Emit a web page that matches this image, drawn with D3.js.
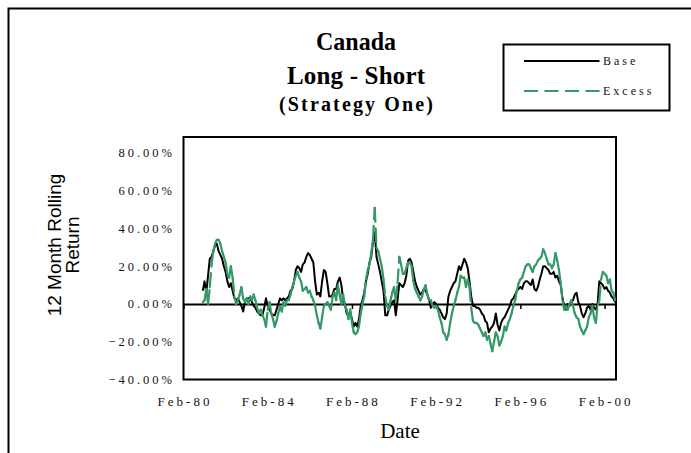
<!DOCTYPE html>
<html>
<head>
<meta charset="utf-8">
<script src="https://cdn.jsdelivr.net/npm/d3@7"></script>
<style>
  html, body { margin: 0; padding: 0; background: #fff; }
  svg { display: block; }
</style>
</head>
<body>
<svg id="chart" width="691" height="453"></svg>
<script>
// ---- data (12 month rolling returns, %), monthly from Jan-81 to Aug-00 ----
const firstDataMonth = 11; // months after Feb-80 (Jan-81)
const baseReturn = [
  7,
  12, 6, 15, 24, 25, 28, 31, 32, 28, 26, 24, 20, 17, 12, 9, 11, 7,
  3, 2, 3, 1, -1, -4, 1, 3, 3, 3, 1, -1, -2, -4, -5, -6, -6, -2, 3,
  -1, -3, -5, -6, -6, -3, 0, 3, 2, 3, 2, 3, 4, 7, 8, 12, 18, 20, 19,
  17, 21, 22, 25, 27, 26, 24, 22, 12, 5, 6, 4, 12, 18, 17, 11, 4, 4,
  5, 8, 8, 12, 14, 10, 2, 0, -5, -6, -4, -8, -12, -10, -12, -8, -1, 2, 6,
  12, 16, 22, 25, 33, 38, 25, 21, 17, 12, 7, -6, -6, -3, -1, 1, 2, -6, 2,
  11, 10, 9, 11, 15, 23, 24, 22, 17, 12, 9, 7, 5, 6, 8, 7, 5, 2,
  -2, 0, 1, 0, -2, -3, -5, -7, -8, -5, 4, 7, 9, 11, 12, 16, 20, 18, 21,
  24, 22, 19, 12, 4, -1, -1, -2, -2, -3, -5, -6, -9, -10, -15, -13, -12, -10, -5,
  -11, -14, -10, -8, -7, -5, -3, -1, 2, 3, 5, 7, 8, 9, 8, 11, 12, 12,
  11, 10, 13, 8, 7, 9, 13, 16, 20, 20, 19, 18, 16, 16, 17, 14, 15, 12, 10,
  3, -1, -3, 0, -1, 1, 2, 5, 6, 1, -1, -5, -7, -5, -2, -1, -3, 0, -2,
  -3, 0, 12, 11, 10, 8, 9, 7, 6, 4, 3, 1
];
const excessReturn = [
  1,
  2, 8, 0, 9, 21, 28, 32, 34, 34, 32, 28, 25, 22, 16, 14, 20, 14,
  4, 0, 2, 5, 9, 3, 1, 3, 0, 4, 2, 5, 2, -2, -5, -3, -6, -8, -12,
  -3, 1, -5, -8, -12, -9, -5, -1, -4, 1, -1, 2, 2, 5, 9, 12, 15, 17, 14,
  12, 7, 8, 9, 6, 7, 4, 2, -1, -6, -10, -13, -7, -1, 0, 1, -1, -3,
  4, 6, 2, 10, 5, 0, 5, -1, -3, -8, -3, -10, -15, -16, -15, -12, -5, 0, 4,
  13, 18, 21, 27, 34, 51, 30, 28, 24, 20, 13, 4, -1, -3, 2, 6, 9, 2, 11,
  25, 21, 16, 16, 19, 22, 22, 20, 12, 8, 6, 4, 2, 4, 8, 10, 5, 2,
  2, -1, -2, -1, -3, -7, -10, -15, -16, -19, -16, -10, -5, -1, 2, 6, 9, 15, 14,
  14, 9, 13, 9, -2, -9, -10, -10, -11, -13, -15, -17, -15, -19, -17, -21, -25, -20, -15,
  -17, -22, -20, -17, -12, -14, -10, -8, -5, -1, 2, 7, 11, 13, 14, 17, 20, 21,
  21, 19, 17, 20, 21, 23, 24, 25, 29, 27, 24, 21, 21, 19, 21, 27, 23, 18, 11,
  2, -3, -1, -3, 0, 2, -1, -5, -7, -8, -12, -14, -16, -14, -12, -7, -5, -1, -7,
  -10, -1, 2, 13, 17, 16, 15, 11, 13, 7, 6, 2
];
const xTickLabels = ["Feb-80", "Feb-84", "Feb-88", "Feb-92", "Feb-96", "Feb-00"];
const monthsPerTick = 48;
const yTicks = [-40, -20, 0, 20, 40, 60, 80];
const seriesNames = ["Base", "Excess"];
const titleLines = ["Canada", "Long - Short", "(Strategy One)"];

// ---- drawing ----
const svg = d3.select("#chart");
const serif = "'Liberation Serif', 'Times New Roman', serif";
const sans = "'Liberation Sans', Arial, sans-serif";
const green = "#339966";

svg.append("rect").attr("width", 691).attr("height", 453).attr("fill", "#fff");
// outer chart frame
svg.append("rect").attr("x", 8.5).attr("y", 8.5).attr("width", 720).attr("height", 480)
  .attr("fill", "none").attr("stroke", "#000").attr("stroke-width", 2);

const x = d3.scaleLinear().domain([0, 246.5]).range([183.5, 616]);
const y = d3.scaleLinear().domain([-40, 88.5]).range([379.5, 137]);

// plot frame
svg.append("rect")
  .attr("x", x.range()[0]).attr("y", y.range()[1])
  .attr("width", x.range()[1] - x.range()[0]).attr("height", y.range()[0] - y.range()[1])
  .attr("fill", "#fff").attr("stroke", "#000").attr("stroke-width", 2);

// y tick labels
svg.append("g").selectAll("text").data(yTicks).join("text")
  .attr("x", 175).attr("y", d => y(d)).attr("dy", "0.35em")
  .attr("text-anchor", "end")
  .attr("font-family", serif).attr("font-size", 12.5).attr("letter-spacing", 3)
  .attr("fill", "#111")
  .text(d => d3.format(".2f")(d) + "%");

// x axis at zero with small tick marks
const xAxis = d3.axisBottom(x)
  .tickValues(xTickLabels.map((_, i) => i * monthsPerTick))
  .tickSize(5).tickSizeOuter(0).tickFormat("");
const gx = svg.append("g").attr("transform", `translate(0,${y(0)})`).call(xAxis);
gx.select(".domain").attr("stroke", "#000").attr("stroke-width", 2);
gx.selectAll(".tick line").attr("stroke", "#000").attr("stroke-width", 1.5);

// x tick labels at bottom
svg.append("g").selectAll("text").data(xTickLabels).join("text")
  .attr("x", (d, i) => x(i * monthsPerTick) + 1.5).attr("y", 401).attr("dy", "0.35em")
  .attr("text-anchor", "middle")
  .attr("font-family", serif).attr("font-size", 13).attr("letter-spacing", 3)
  .attr("fill", "#111")
  .text(d => d);

// series
const basePts = baseReturn.map((v, i) => [firstDataMonth + i, v]);
const excessPts = excessReturn.map((v, i) => [firstDataMonth + i, v]);
const line = d3.line().x(d => x(d[0])).y(d => y(d[1]));

svg.append("path").datum(basePts).attr("d", line)
  .attr("fill", "none").attr("stroke", "#000").attr("stroke-width", 2)
  .attr("stroke-linejoin", "round");

// Excess drawn segment by segment (dash pattern restarts on each segment)
const segs = d3.pairs(excessPts);
svg.append("g").selectAll("line").data(segs).join("line")
  .attr("x1", d => x(d[0][0])).attr("y1", d => y(d[0][1]))
  .attr("x2", d => x(d[1][0])).attr("y2", d => y(d[1][1]))
  .attr("stroke", green).attr("stroke-width", 2.2)
  .attr("stroke-dasharray", "14,6.5").attr("stroke-linecap", "round");

// titles
const titleSpecs = [
  { y: 49.5, size: 25, len: 80 },
  { y: 83.5, size: 25, len: 138 },
  { y: 110.5, size: 20, len: 154 }
];
svg.append("g").selectAll("text").data(titleLines).join("text")
  .attr("x", 356).attr("y", (d, i) => titleSpecs[i].y)
  .attr("text-anchor", "middle")
  .attr("font-family", serif).attr("font-weight", "bold")
  .attr("font-size", (d, i) => titleSpecs[i].size)
  .attr("textLength", (d, i) => titleSpecs[i].len)
  .attr("lengthAdjust", (d, i) => i === 0 ? "spacingAndGlyphs" : "spacing")
  .text(d => d);

// axis titles
svg.append("text").attr("x", 400).attr("y", 438)
  .attr("text-anchor", "middle").attr("font-family", serif).attr("font-size", 21)
  .text("Date");
const yTitle = svg.append("text")
  .attr("transform", "translate(0,245) rotate(-90)")
  .attr("text-anchor", "middle").attr("font-family", sans).attr("font-size", 19);
yTitle.append("tspan").attr("x", 0).attr("y", 61).text("12 Month Rolling");
yTitle.append("tspan").attr("x", 0).attr("y", 78.5).text("Return");

// legend
const lg = svg.append("g");
lg.append("rect").attr("x", 503.5).attr("y", 44.5).attr("width", 166).attr("height", 66)
  .attr("fill", "#fff").attr("stroke", "#000").attr("stroke-width", 2);
const legendItems = [
  { name: seriesNames[0], color: "#000", dash: null, y: 61 },
  { name: seriesNames[1], color: green, dash: "14,6.5", y: 91 }
];
legendItems.forEach(it => {
  lg.append("line").attr("x1", 524).attr("x2", 599.5).attr("y1", it.y).attr("y2", it.y)
    .attr("stroke", it.color).attr("stroke-width", 2.2)
    .attr("stroke-dasharray", it.dash);
  lg.append("text").attr("x", 603).attr("y", it.y).attr("dy", "0.35em")
    .attr("font-family", serif).attr("font-size", 12).attr("letter-spacing", 3)
    .attr("fill", "#111").text(it.name);
});
</script>
</body>
</html>
